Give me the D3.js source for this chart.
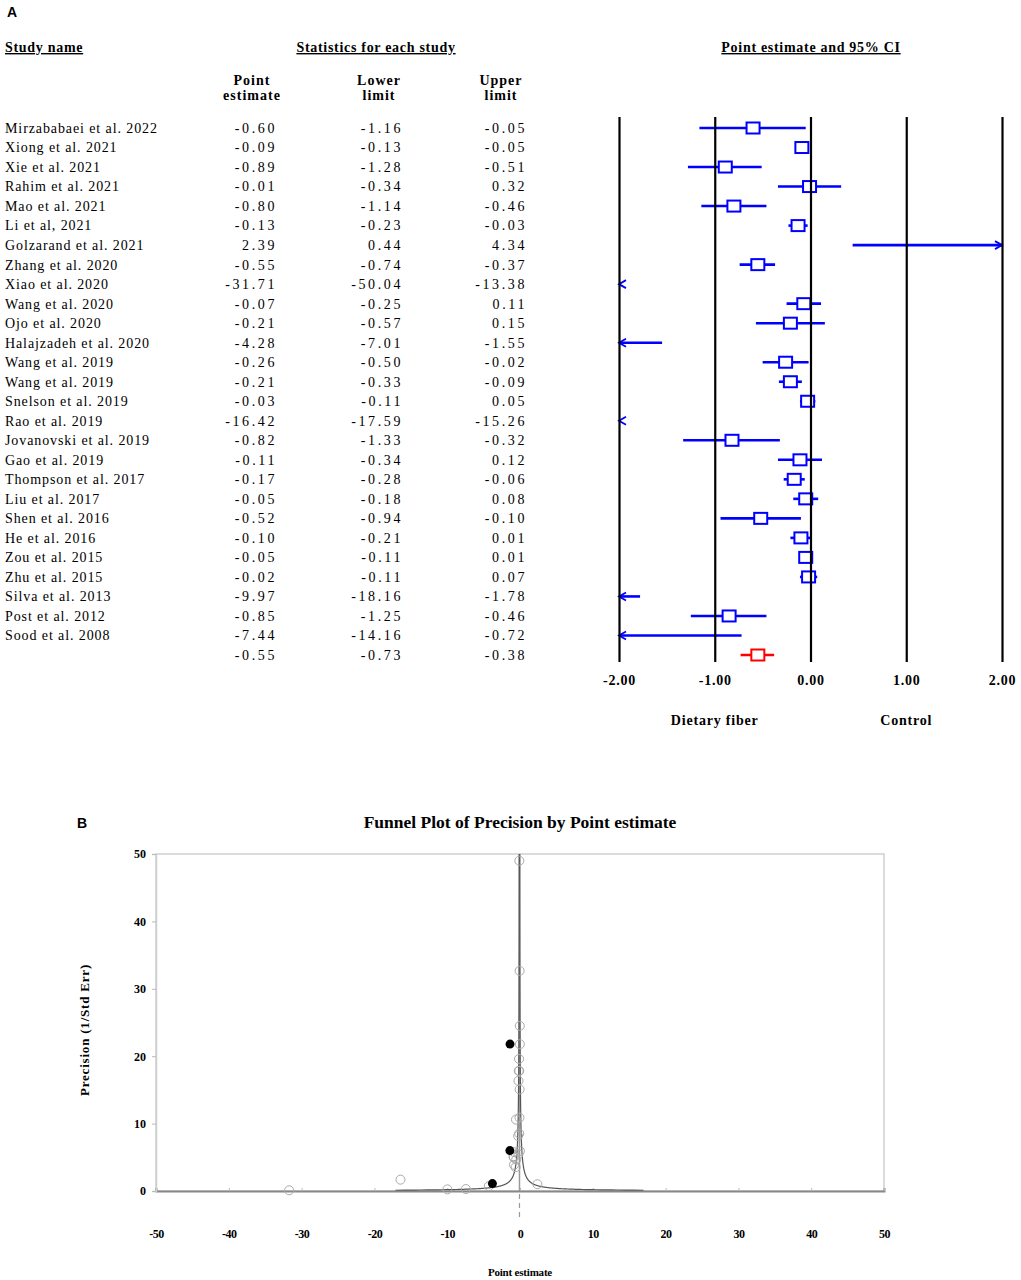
<!DOCTYPE html>
<html>
<head>
<meta charset="utf-8">
<script src="https://cdn.jsdelivr.net/npm/d3@7"></script>
<style>
  body { margin: 0; background: #fff; }
  text { font-family: "Liberation Serif", "Times New Roman", serif; }
</style>
</head>
<body>
<div id="chart"></div>
<script>
// forest plot data
var studies = ["Mirzababaei et al. 2022","Xiong et al. 2021","Xie et al. 2021","Rahim et al. 2021",
  "Mao et al. 2021","Li et al, 2021","Golzarand et al. 2021","Zhang et al. 2020","Xiao et al. 2020",
  "Wang et al. 2020","Ojo et al. 2020","Halajzadeh et al. 2020","Wang et al. 2019","Wang et al. 2019",
  "Snelson et al. 2019","Rao et al. 2019","Jovanovski et al. 2019","Gao et al. 2019","Thompson et al. 2017",
  "Liu et al. 2017","Shen et al. 2016","He et al. 2016","Zou et al. 2015","Zhu et al. 2015",
  "Silva et al. 2013","Post et al. 2012","Sood et al. 2008"];
var pointEst = [-0.60,-0.09,-0.89,-0.01,-0.80,-0.13,2.39,-0.55,-31.71,-0.07,-0.21,-4.28,-0.26,-0.21,
  -0.03,-16.42,-0.82,-0.11,-0.17,-0.05,-0.52,-0.10,-0.05,-0.02,-9.97,-0.85,-7.44];
var lowerLim = [-1.16,-0.13,-1.28,-0.34,-1.14,-0.23,0.44,-0.74,-50.04,-0.25,-0.57,-7.01,-0.50,-0.33,
  -0.11,-17.59,-1.33,-0.34,-0.28,-0.18,-0.94,-0.21,-0.11,-0.11,-18.16,-1.25,-14.16];
var upperLim = [-0.05,-0.05,-0.51,0.32,-0.46,-0.03,4.34,-0.37,-13.38,0.11,0.15,-1.55,-0.02,-0.09,
  0.05,-15.26,-0.32,0.12,-0.06,0.08,-0.10,0.01,0.01,0.07,-1.78,-0.46,-0.72];
var summary = {point: -0.55, lower: -0.73, upper: -0.38};
var forestTicks = [-2, -1, 0, 1, 2];

// funnel plot data
var funnelTicks = [-50,-40,-30,-20,-10,0,10,20,30,40,50];
var precisionTicks = [0,10,20,30,40,50];
var imputedX = [-1.37, -1.39, -3.79];
var imputedP = [21.8, 6.0, 1.1];
var funnelMean = -0.07;

var W = 1021, H = 1280;
var svg = d3.select("#chart").append("svg").attr("width", W).attr("height", H);

// ---------- panel A ----------
svg.append("text").attr("x", 7).attr("y", 17).text("A")
  .style("font-family", "Liberation Sans, Arial, sans-serif").style("font-weight", "bold").style("font-size", "14px");

function header(x, y, txt, anchor) {
  return svg.append("text").attr("x", x).attr("y", y).attr("text-anchor", anchor || "start")
    .style("font-weight", "bold").style("font-size", "14px").style("letter-spacing", "0.7px")
    .style("text-decoration", "underline").text(txt);
}
header(5, 52, "Study name");
header(376, 52, "Statistics for each study", "middle");
header(811, 52, "Point estimate and 95% CI", "middle");

var colHead = [["Point","estimate",252],["Lower","limit",379],["Upper","limit",501]];
colHead.forEach(function(c) {
  [c[0], c[1]].forEach(function(t, k) {
    svg.append("text").attr("x", c[2]).attr("y", 85 + k * 15).attr("text-anchor", "middle")
      .style("font-weight", "bold").style("font-size", "14px").style("letter-spacing", "1px").text(t);
  });
});

var nRows = studies.length + 1;
var y = d3.scaleLinear().domain([0, nRows - 1]).range([128, 655]);
var x = d3.scaleLinear().domain([-2, 2]).range([619, 1002]);

var rows = studies.map(function(s, i) {
  return {name: s, point: pointEst[i], lower: lowerLim[i], upper: upperLim[i], summary: false};
});
rows.push({name: "", point: summary.point, lower: summary.lower, upper: summary.upper, summary: true});

var fmt = function(v) { return v.toFixed(2); };

var rowG = svg.selectAll(".row").data(rows).enter().append("g").attr("class", "row")
  .attr("transform", function(d, i) { return "translate(0," + y(i) + ")"; });

rowG.append("text").attr("x", 5).attr("dy", "0.35em").style("font-size", "14px").style("letter-spacing", "0.9px")
  .text(function(d) { return d.name; });
[["point",277],["lower",403],["upper",527]].forEach(function(c) {
  rowG.append("text").attr("x", c[1]).attr("dy", "0.35em").attr("text-anchor", "end")
    .style("font-size", "14px").style("letter-spacing", "2.6px")
    .text(function(d) { return fmt(d[c[0]]); });
});

// vertical grid lines + tick labels
var xAxis = d3.axisBottom(x).tickValues(forestTicks).tickSize(-545).tickPadding(13)
  .tickFormat(function(d) { return d.toFixed(2); });
var ax = svg.append("g").attr("transform", "translate(0,662)").call(xAxis);
ax.select(".domain").remove();
ax.selectAll(".tick line").attr("stroke", "#000").attr("stroke-width", 2.2);
ax.selectAll(".tick text").attr("fill", "#000").style("font-family", "Liberation Serif, serif")
  .style("font-weight", "bold").style("font-size", "14px").style("letter-spacing", "0.8px");

svg.append("text").attr("x", x(-1)).attr("y", 725).attr("text-anchor", "middle")
  .style("font-weight", "bold").style("font-size", "14px").style("letter-spacing", "0.8px").text("Dietary fiber");
svg.append("text").attr("x", x(1)).attr("y", 725).attr("text-anchor", "middle")
  .style("font-weight", "bold").style("font-size", "14px").style("letter-spacing", "0.8px").text("Control");

// CI marks
var xmin = x.domain()[0], xmax = x.domain()[1];
function arrowHead(g, px, dir, col) {
  g.append("path").attr("d", "M" + (px + dir * 7) + ",-4 L" + px + ",0 L" + (px + dir * 7) + ",4")
    .attr("fill", "none").attr("stroke", col).attr("stroke-width", 1.8);
}
rowG.each(function(d) {
  var g = d3.select(this);
  var col = d.summary ? "#ff0000" : "#0000ff";
  var lo = Math.max(d.lower, xmin), hi = Math.min(d.upper, xmax);
  if (hi > lo) {
    g.append("line").attr("x1", x(lo)).attr("x2", x(hi)).attr("stroke", col).attr("stroke-width", 2.6);
  }
  if (d.lower < xmin) arrowHead(g, x(xmin), 1, col);
  if (d.upper > xmax) arrowHead(g, x(xmax), -1, col);
  if (d.point >= xmin && d.point <= xmax) {
    g.append("rect").attr("x", x(d.point) - 6.5).attr("y", -5.5).attr("width", 13).attr("height", 11)
      .attr("fill", "#fff").attr("stroke", col).attr("stroke-width", 2);
  }
});

// ---------- panel B ----------
svg.append("text").attr("x", 77).attr("y", 828).text("B")
  .style("font-family", "Liberation Sans, Arial, sans-serif").style("font-weight", "bold").style("font-size", "14px");
svg.append("text").attr("x", 520).attr("y", 828).attr("text-anchor", "middle")
  .style("font-weight", "bold").style("font-size", "17.5px").text("Funnel Plot of Precision by Point estimate");

var fx = d3.scaleLinear().domain([-50, 50]).range([156, 884]);
var fy = d3.scaleLinear().domain([0, 50]).range([1191, 854]);

// frame
svg.append("rect").attr("x", fx(-50)).attr("y", fy(50)).attr("width", fx(50) - fx(-50)).attr("height", fy(0) - fy(50))
  .attr("fill", "none").attr("stroke", "#cfcfcf").attr("stroke-width", 1.5);

var fxAxis = d3.axisBottom(fx).tickValues(funnelTicks).tickSize(-3).tickPadding(38).tickFormat(d3.format("d"));
var gx = svg.append("g").attr("transform", "translate(0," + fy(0) + ")").call(fxAxis);
gx.select(".domain").attr("stroke", "#888").attr("stroke-width", 2);
gx.selectAll(".tick line").attr("stroke", "#bbb");
gx.selectAll(".tick text").attr("fill", "#000").style("font-family", "Liberation Serif, serif")
  .style("font-weight", "bold").style("font-size", "12px").style("letter-spacing", "-0.5px")
  .text(function(d) { return String(d); });

var fyAxis = d3.axisLeft(fy).tickValues(precisionTicks).tickSize(4).tickPadding(6);
var gy = svg.append("g").attr("transform", "translate(" + fx(-50) + ",0)").call(fyAxis);
gy.select(".domain").attr("stroke", "#cfcfcf").attr("stroke-width", 1.5);
gy.selectAll(".tick line").attr("stroke", "#bbb");
gy.selectAll(".tick text").attr("fill", "#000").style("font-family", "Liberation Serif, serif")
  .style("font-weight", "bold").style("font-size", "12px");

svg.append("text").attr("transform", "translate(89,1030) rotate(-90)").attr("text-anchor", "middle")
  .style("font-weight", "bold").style("font-size", "13px").style("letter-spacing", "0.8px").text("Precision (1/Std Err)");
svg.append("text").attr("x", 520).attr("y", 1276).attr("text-anchor", "middle")
  .style("font-weight", "bold").style("font-size", "11px").style("letter-spacing", "-0.2px").text("Point estimate");

// mean lines
svg.append("line").attr("x1", fx(funnelMean)).attr("x2", fx(funnelMean)).attr("y1", fy(50)).attr("y2", fy(0))
  .attr("stroke", "#999").attr("stroke-width", 1.5);
svg.append("line").attr("x1", fx(funnelMean)).attr("x2", fx(funnelMean)).attr("y1", fy(0) + 3).attr("y2", 1217)
  .attr("stroke", "#999").attr("stroke-width", 1.2).attr("stroke-dasharray", "5,4");

// pseudo 95% limits
var pVals = d3.range(0.115, 50, 0.01);
var leftLine = d3.line().x(function(p) { return fx(funnelMean - 1.96 / p); }).y(function(p) { return fy(p); });
var rightLine = d3.line().x(function(p) { return fx(funnelMean + 1.96 / p); }).y(function(p) { return fy(p); });
svg.append("path").attr("d", leftLine(pVals)).attr("fill", "none").attr("stroke", "#555").attr("stroke-width", 1.2);
svg.append("path").attr("d", rightLine(pVals)).attr("fill", "none").attr("stroke", "#555").attr("stroke-width", 1.2);

// observed studies: precision from CI width
var obs = studies.map(function(s, i) {
  return {x: pointEst[i], p: 3.92 / (upperLim[i] - lowerLim[i])};
});
svg.selectAll(".obs").data(obs).enter().append("circle").attr("class", "obs")
  .attr("cx", function(d) { return fx(d.x); }).attr("cy", function(d) { return fy(d.p); })
  .attr("r", 4.5).attr("fill", "none").attr("stroke", "#aaa").attr("stroke-width", 1);

var imp = imputedX.map(function(v, i) { return {x: v, p: imputedP[i]}; });
svg.selectAll(".imp").data(imp).enter().append("circle").attr("class", "imp")
  .attr("cx", function(d) { return fx(d.x); }).attr("cy", function(d) { return fy(d.p); })
  .attr("r", 4.5).attr("fill", "#000");
</script>
</body>
</html>
